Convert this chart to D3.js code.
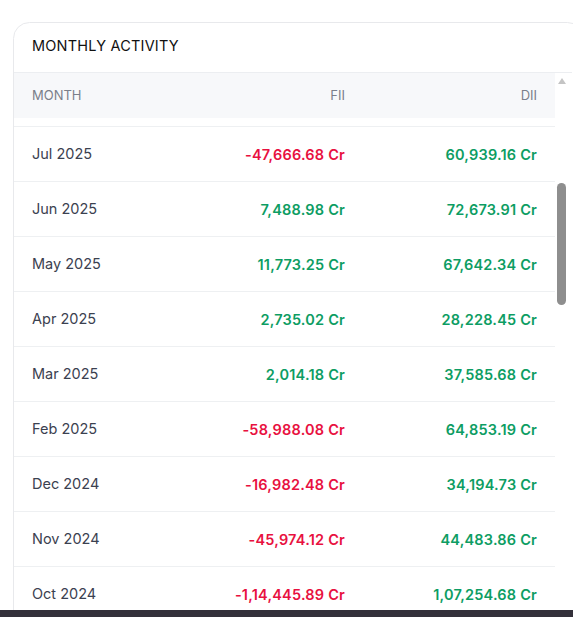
<!DOCTYPE html>
<html><head><meta charset="utf-8">
<script src="https://cdn.jsdelivr.net/npm/d3@7"></script>
<style>body{margin:0;background:#fff;}</style>
</head><body>
<script>
var w = 573, h = 617;
var months = ["Jul 2025","Jun 2025","May 2025","Apr 2025","Mar 2025","Feb 2025","Dec 2024","Nov 2024","Oct 2024"];
var fii = [-47666.68, 7488.98, 11773.25, 2735.02, 2014.18, -58988.08, -16982.48, -45974.12, -114445.89];
var dii = [60939.16, 72673.91, 67642.34, 28228.45, 37585.68, 64853.19, 34194.73, 44483.86, 107254.68];
var columns = ["MONTH", "FII", "DII"];

var fmt = function(v) {
  return v.toLocaleString("en-IN", {minimumFractionDigits: 2, maximumFractionDigits: 2}) + " Cr";
};

var svg = d3.select("body").append("svg").attr("width", w).attr("height", h);

// card
svg.append("rect").attr("x", 13.5).attr("y", 22.5).attr("width", 570).attr("height", 640)
  .attr("rx", 16).attr("fill", "#fff").attr("stroke", "#e8e9ec");
svg.append("text").text("MONTHLY ACTIVITY").attr("x", 32).attr("y", 51)
  .attr("font-family", "Inter, sans-serif").attr("font-size", "14.5px").attr("letter-spacing", "0.2px").attr("fill", "#111");
svg.append("line").attr("x1", 14).attr("x2", 572).attr("y1", 72.5).attr("y2", 72.5).attr("stroke", "#eceef1");

// header band
svg.append("rect").attr("x", 14).attr("y", 73).attr("width", 541).attr("height", 45).attr("fill", "#f7f8fa");
var colX = [32, 345, 537];
svg.selectAll("text.hd").data(columns).enter().append("text").attr("class", "hd")
  .text(function(d) { return d; })
  .attr("x", function(d, i) { return colX[i]; })
  .attr("y", 100)
  .attr("text-anchor", function(d, i) { return i ? "end" : "start"; })
  .attr("font-family", "Inter, sans-serif").attr("font-size", "13px").attr("fill", "#7a7f8a");

// rows
var y = d3.scaleLinear().domain([0, 1]).range([126, 181]);
var g = svg.selectAll("g.row").data(months).enter().append("g").attr("class", "row")
  .attr("transform", function(d, i) { return "translate(0," + y(i) + ")"; });
g.append("line").attr("x1", 14).attr("x2", 555).attr("y1", 0.5).attr("y2", 0.5).attr("stroke", "#eef0f2");
g.append("text").text(function(d) { return d; }).attr("x", colX[0]).attr("y", 33)
  .attr("font-family", "Inter, sans-serif").attr("font-size", "14.5px").attr("fill", "#3b4150");
g.append("text").text(function(d, i) { return fmt(fii[i]); }).attr("x", colX[1]).attr("y", 34)
  .attr("text-anchor", "end").attr("font-family", "Inter, sans-serif").attr("font-size", "14.5px")
  .attr("font-weight", 600).attr("letter-spacing", "0.2px")
  .attr("fill", function(d, i) { return fii[i] < 0 ? "#e8113f" : "#0d9d63"; });
g.append("text").text(function(d, i) { return fmt(dii[i]); }).attr("x", colX[2]).attr("y", 34)
  .attr("text-anchor", "end").attr("font-family", "Inter, sans-serif").attr("font-size", "14.5px")
  .attr("font-weight", 600).attr("letter-spacing", "0.2px")
  .attr("fill", function(d, i) { return dii[i] < 0 ? "#e8113f" : "#0d9d63"; });

// scrollbar
svg.append("path").attr("d", "M558,84 L566,84 L562,78 Z").attr("fill", "#c4c4c4");
svg.append("rect").attr("x", 557).attr("y", 183).attr("width", 9).attr("height", 122).attr("rx", 4.5).attr("fill", "#8e8e8e");

// bottom bar
svg.append("rect").attr("x", 0).attr("y", 610).attr("width", w).attr("height", 7).attr("fill", "#33303a");
</script>
</body></html>
